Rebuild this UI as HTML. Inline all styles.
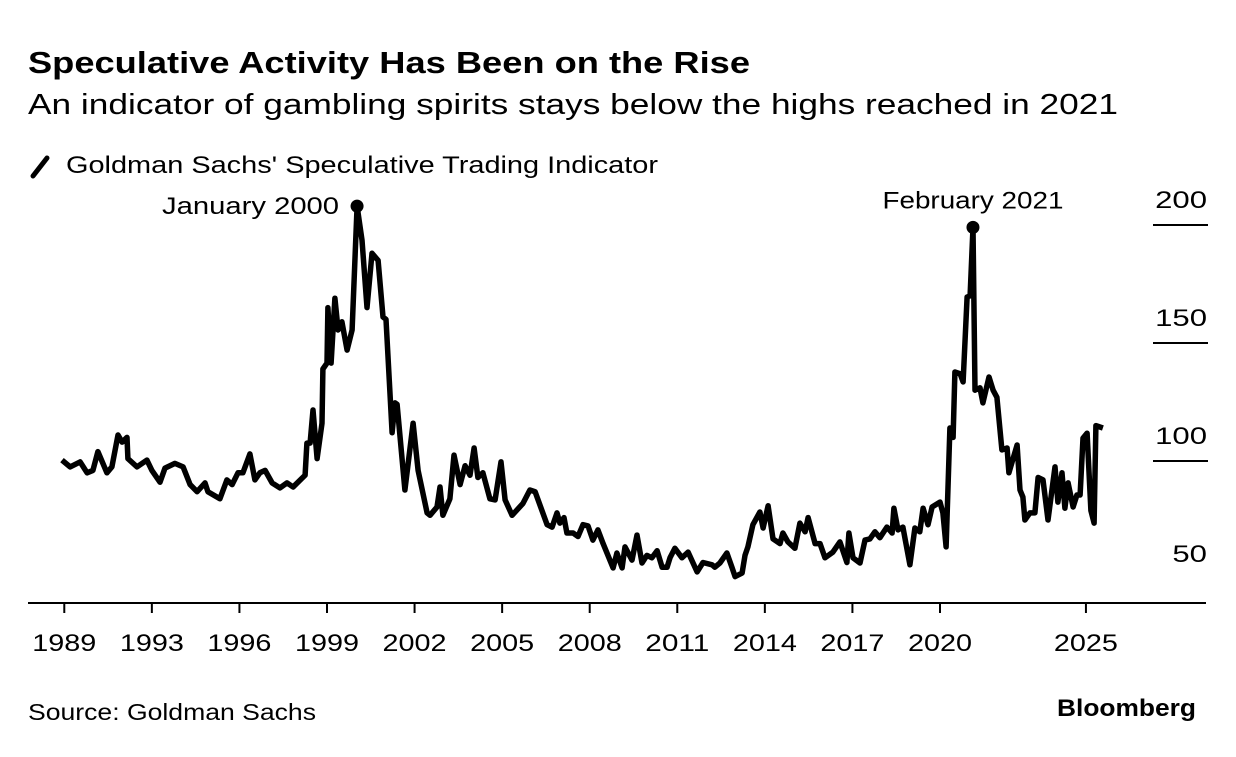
<!DOCTYPE html>
<html><head><meta charset="utf-8">
<style>
body{margin:0;background:#fff;width:1236px;height:752px;overflow:hidden;font-family:"Liberation Sans",Arial,sans-serif;color:#000}
</style></head>
<body>
<svg width="1236" height="752" viewBox="0 0 1236 752" font-family="Liberation Sans, Arial, sans-serif">
<text x="28" y="73" font-size="31" font-weight="bold" textLength="722" lengthAdjust="spacingAndGlyphs">Speculative Activity Has Been on the Rise</text>
<text x="28" y="114" font-size="29" textLength="1090" lengthAdjust="spacingAndGlyphs">An indicator of gambling spirits stays below the highs reached in 2021</text>
<line x1="33" y1="176" x2="47" y2="158" stroke="#000" stroke-width="5" stroke-linecap="round"/>
<text x="66" y="173" font-size="24" textLength="592" lengthAdjust="spacingAndGlyphs">Goldman Sachs' Speculative Trading Indicator</text>
<g id="grid"></g>
<line x1="28" y1="603" x2="1206" y2="603" stroke="#000" stroke-width="2"/>
<g id="xt"></g>
<path id="series" fill="none" stroke="#000" stroke-width="5.5" stroke-linejoin="round"/>
<g id="ann"></g>
<text x="28" y="720" font-size="23" textLength="288" lengthAdjust="spacingAndGlyphs">Source: Goldman Sachs</text>
<text x="1057" y="716" font-size="24" font-weight="bold" textLength="139" lengthAdjust="spacingAndGlyphs">Bloomberg</text>
</svg>
<script>
const dates=[1989.92,1990.2,1990.54,1990.78,1990.98,1991.15,1991.46,1991.63,1991.84,1991.98,1992.15,1992.18,1992.49,1992.83,1993.0,1993.28,1993.45,1993.79,1994.07,1994.31,1994.55,1994.82,1994.92,1995.33,1995.57,1995.75,1995.95,1996.12,1996.36,1996.53,1996.7,1996.88,1997.12,1997.39,1997.63,1997.84,1998.25,1998.31,1998.42,1998.52,1998.66,1998.83,1998.86,1999.0,1999.03,1999.14,1999.27,1999.38,1999.51,1999.69,1999.86,2000.03,2000.2,2000.37,2000.54,2000.75,2000.92,2001.02,2001.23,2001.33,2001.4,2001.67,2001.95,2002.12,2002.43,2002.53,2002.77,2002.87,2002.97,2003.21,2003.35,2003.56,2003.73,2003.9,2004.04,2004.17,2004.34,2004.58,2004.76,2004.96,2005.1,2005.34,2005.71,2005.95,2006.13,2006.54,2006.71,2006.88,2006.98,2007.12,2007.22,2007.43,2007.6,2007.77,2007.94,2008.11,2008.28,2008.46,2008.8,2008.93,2009.11,2009.21,2009.45,2009.62,2009.79,2009.96,2010.13,2010.31,2010.48,2010.65,2010.75,2010.92,2011.16,2011.37,2011.68,2011.88,2012.19,2012.29,2012.46,2012.7,2012.87,2012.98,2013.22,2013.32,2013.42,2013.59,2013.83,2013.94,2014.11,2014.28,2014.52,2014.62,2014.79,2015.03,2015.2,2015.38,2015.48,2015.72,2015.89,2016.06,2016.33,2016.57,2016.81,2016.88,2017.02,2017.26,2017.43,2017.6,2017.77,2017.94,2018.18,2018.36,2018.42,2018.56,2018.73,2018.97,2019.14,2019.31,2019.42,2019.59,2019.73,2020.0,2020.1,2020.21,2020.34,2020.45,2020.51,2020.69,2020.79,2020.93,2021.03,2021.13,2021.2,2021.37,2021.47,2021.68,2021.82,2021.95,2022.12,2022.3,2022.36,2022.64,2022.74,2022.84,2022.91,2023.08,2023.25,2023.36,2023.53,2023.7,2023.94,2024.04,2024.18,2024.28,2024.39,2024.56,2024.69,2024.8,2024.9,2025.04,2025.17,2025.28,2025.34,2025.58];
const values=[100.4,97.5,99.6,95,96,104,95,97.5,111,108,110,101,97.5,100.4,96,91,97,99,97.5,90,87,90.7,87,84,92,90,95,95,103,92,95,96,90.7,88.6,90.7,89,94,107.6,107.6,121.6,101,116,139,141.5,165,141.5,169,155.5,159,147,155.5,208,193.6,165,188,185,161,160,112,124.6,124,87.7,116,96,78,77,80.5,89,77,84,102.5,90,98,94,105.5,93,95,84,83.5,99.6,83.5,77,82,87.7,87,73,72,78,73.7,76,69.5,69.5,68,73,72.5,66.5,70.8,65,54.7,61,54.7,63.6,58,68.6,56.8,60,59,62,55,55,59,63,59,61.4,53,57,56,55,56.8,61,55,51,52.5,60,63.6,73,78.4,71.6,81,67,65,69.5,65.7,63,73.7,70,76,65,65,59,61.4,65.7,57,69.5,59,56.8,66.5,67,70,67.5,72,69.5,80,70.8,72,56,71.6,70,80,73,80.5,82.6,78,63.6,114,110,137.7,137,133.5,169.5,170,199,130,131,124.6,135.6,130,127,104.7,105.5,95,106.8,87.7,84.7,75,78,78,93,92,75,97.5,82.6,95,80,90.7,80.5,85.6,85.6,109.7,111.8,79,73.7,115,114];
const yTicks=[50,100,150,200];
const xTickYears=[1990,1993,1996,1999,2002,2005,2008,2011,2014,2017,2020,2025];
const xTickLabels=['1989','1993','1996','1999','2002','2005','2008','2011','2014','2017','2020','2025'];
const annDates=[2000.03,2021.13];
const annValues=[208,199];
const annLabels=['January 2000','February 2021'];

const NS='http://www.w3.org/2000/svg';
function xs(t){return 327+(t-1999)*29.19;}
function ys(v){return 461-(v-100)*2.36;}
function mk(tag,attrs,parent){const e=document.createElementNS(NS,tag);for(const k in attrs)e.setAttribute(k,attrs[k]);parent.appendChild(e);return e;}
const grid=document.getElementById('grid');
yTicks.forEach(v=>{
  const y=ys(v);
  if(v>50){const l=mk('line',{x1:1153,x2:1208,y1:y,y2:y,stroke:'#000','stroke-width':2},grid);
  
  }
  const w=String(v).length*17.3;
  const t=mk('text',{x:1207-w,y:y-17,'font-size':24,textLength:w,lengthAdjust:'spacingAndGlyphs'},grid);
  t.textContent=v;
  
  
});
const xt=document.getElementById('xt');
xTickYears.forEach((yr,i)=>{
  const x=xs(yr);
  const l=mk('line',{x1:x,x2:x,y1:603,y2:613,stroke:'#000','stroke-width':2},xt);
  
  
  const t=mk('text',{x:x-32,y:651,'font-size':24,textLength:64,lengthAdjust:'spacingAndGlyphs'},xt);
  t.textContent=xTickLabels[i];
  
  
});
document.getElementById('series').setAttribute('d',dates.map((d,i)=>(i?'L':'M')+xs(d).toFixed(1)+' '+ys(values[i]).toFixed(1)).join(' '));
const ann=document.getElementById('ann');
const annW=[177,181];
annDates.forEach((d,i)=>{
  const x=xs(d),y=ys(annValues[i]);
  const c=mk('circle',{cx:x,cy:y,r:6.5,fill:'#000'},ann);
  
  
  const tx=i===0?x-18-annW[i]:x-annW[i]/2-steps(i);
  const ty=i===0?y+8:y-19;
  const t=mk('text',{x:tx,y:ty,'font-size':24,textLength:annW[i],lengthAdjust:'spacingAndGlyphs'},ann);
  t.textContent=annLabels[i];
  
  
});
function steps(i){return 0;}
</script>
</body></html>
